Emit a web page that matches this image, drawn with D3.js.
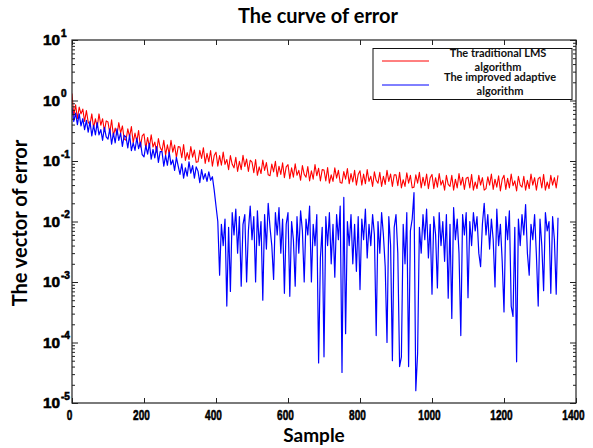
<!DOCTYPE html>
<meta charset="utf-8">
<title>The curve of error</title>
<style>
  body { margin: 0; background: #fff; }
  .frame { fill: none; stroke: #222; stroke-width: 1.2px; }
  .axis path { display: none; }
  .axis line { stroke: #222; stroke-width: 1px; }
  .tick-lbl { font-family: "Liberation Sans", Arial, sans-serif; font-weight: bold; font-size: 15px; fill: #000; stroke: #000; stroke-width: 0.6px; }
  .lbl { font-family: Lato, "Open Sans", sans-serif; font-weight: bold; font-size: 20px; fill: #000; }
  .leg { font-family: Lato, "Open Sans", sans-serif; font-weight: bold; font-size: 11px; fill: #111; }
  .err { fill: none; stroke-linejoin: round; }
</style>

<body>
  <script src="https://d3js.org/d3.v7.min.js"></script>
  <script>
    // one value every 5 samples, starting at sample 0
    var sampleStep = 5;

    // traditional LMS error (red)
    var lmsErr = [
      1.3, 0.55, 0.85, 0.5, 0.78, 0.6, 0.72, 0.45, 0.68, 0.44,
      0.4, 0.6, 0.35, 0.5, 0.36, 0.6, 0.39, 0.5, 0.31, 0.46,
      0.44, 0.29, 0.48, 0.26, 0.35, 0.27, 0.43, 0.29, 0.38, 0.23,
      0.22, 0.34, 0.25, 0.37, 0.2, 0.29, 0.21, 0.32, 0.17, 0.26,
      0.28, 0.16, 0.245, 0.17, 0.27, 0.17, 0.205, 0.14, 0.235, 0.167,
      0.146, 0.22, 0.125, 0.185, 0.13, 0.22, 0.14, 0.184, 0.114, 0.173,
      0.17, 0.113, 0.187, 0.102, 0.138, 0.106, 0.173, 0.116, 0.152, 0.095,
      0.097, 0.15, 0.11, 0.166, 0.091, 0.134, 0.097, 0.149, 0.082, 0.123,
      0.14, 0.082, 0.123, 0.085, 0.14, 0.088, 0.106, 0.072, 0.123, 0.088,
      0.077, 0.115, 0.067, 0.099, 0.072, 0.124, 0.081, 0.108, 0.067, 0.103,
      0.096, 0.064, 0.106, 0.058, 0.08, 0.062, 0.104, 0.07, 0.094, 0.059,
      0.057, 0.089, 0.066, 0.099, 0.055, 0.082, 0.06, 0.093, 0.053, 0.08,
      0.087, 0.051, 0.077, 0.054, 0.09, 0.058, 0.07, 0.048, 0.084, 0.06,
      0.054, 0.081, 0.047, 0.069, 0.05, 0.087, 0.057, 0.076, 0.047, 0.072,
      0.071, 0.047, 0.078, 0.043, 0.059, 0.046, 0.077, 0.052, 0.07, 0.044,
      0.043, 0.067, 0.05, 0.075, 0.042, 0.062, 0.045, 0.07, 0.04, 0.06,
      0.069, 0.04, 0.061, 0.042, 0.072, 0.046, 0.056, 0.038, 0.066, 0.048,
      0.043, 0.065, 0.038, 0.056, 0.041, 0.07, 0.046, 0.061, 0.038, 0.059,
      0.059, 0.039, 0.065, 0.036, 0.049, 0.038, 0.064, 0.043, 0.058, 0.036,
      0.037, 0.059, 0.043, 0.065, 0.036, 0.054, 0.039, 0.061, 0.035, 0.053,
      0.06, 0.035, 0.053, 0.037, 0.062, 0.04, 0.048, 0.033, 0.058, 0.041,
      0.038, 0.058, 0.033, 0.05, 0.036, 0.062, 0.04, 0.054, 0.034, 0.052,
      0.054, 0.036, 0.06, 0.033, 0.045, 0.035, 0.058, 0.04, 0.053, 0.033,
      0.035, 0.055, 0.04, 0.061, 0.034, 0.05, 0.037, 0.057, 0.032, 0.05,
      0.058, 0.034, 0.052, 0.036, 0.061, 0.039, 0.047, 0.032, 0.056, 0.04,
      0.037, 0.056, 0.033, 0.048, 0.035, 0.061, 0.04, 0.053, 0.033, 0.051,
      0.054, 0.036, 0.06, 0.033, 0.045, 0.035, 0.058, 0.04, 0.053, 0.036,
      0.058
    ];

    // improved adaptive algorithm error (blue)
    var adaptErr = [
      0.75, 0.45, 0.62, 0.4, 0.6, 0.38, 0.5, 0.33, 0.47, 0.3,
      0.45, 0.26, 0.39, 0.27, 0.43, 0.27, 0.33, 0.22, 0.36, 0.25,
      0.23, 0.34, 0.19, 0.29, 0.2, 0.34, 0.22, 0.29, 0.175, 0.265,
      0.25, 0.165, 0.27, 0.148, 0.2, 0.15, 0.24, 0.16, 0.205, 0.127,
      0.117, 0.18, 0.13, 0.195, 0.107, 0.156, 0.113, 0.173, 0.095, 0.143,
      0.143, 0.082, 0.124, 0.085, 0.14, 0.087, 0.104, 0.07, 0.115, 0.082,
      0.06, 0.09, 0.052, 0.077, 0.056, 0.097, 0.063, 0.084, 0.052, 0.08,
      0.068, 0.044, 0.072, 0.05, 0.062, 0.046, 0.066, 0.048, 0.055, 0.033,
      0.018, 0.01, 0.0013, 0.009, 0.004, 0.011, 0.0004, 0.008, 0.0007, 0.014,
      0.006, 0.016, 0.003, 0.012, 0.00085, 0.009, 0.013, 0.001, 0.007, 0.018,
      0.005, 0.012, 0.001, 0.015, 0.004, 0.01, 0.0005, 0.013, 0.0035, 0.02,
      0.008, 0.004, 0.0011, 0.014, 0.006, 0.017, 0.003, 0.011, 0.00065, 0.009,
      0.014, 0.00058, 0.01, 0.005, 0.00085, 0.012, 0.003, 0.015, 0.007, 0.001,
      0.011, 0.006, 0.018, 0.001, 0.009, 0.004, 0.013, 0.000046, 0.0025, 0.008,
      0.000058, 0.012, 0.004, 0.014, 0.002, 0.009, 0.0012, 0.013, 0.005, 0.018,
      0.000032, 0.025, 0.00014, 0.01, 0.004, 0.013, 0.002, 0.009, 0.0015, 0.012,
      0.00075, 0.011, 0.005, 0.016, 0.0025, 0.009, 0.004, 0.013, 0.006, 0.00013,
      0.01, 0.003, 0.014, 0.006, 0.0018, 0.0001, 0.012, 0.004, 0.00005, 0.008,
      0.013, 0.003, 0.00004, 0.000058, 0.009, 0.002, 0.014, 0.00004, 0.007, 0.011,
      0.03, 0.000016, 0.000066, 0.008, 0.003, 0.013, 0.005, 0.016, 0.0025, 0.009,
      0.00063, 0.012, 0.006, 0.0008, 0.014, 0.004, 0.01, 0.0022, 0.013, 0.00054,
      0.009, 0.00025, 0.017, 0.005, 0.011, 0.003, 0.00013, 0.013, 0.006, 0.014,
      0.00055, 0.01, 0.004, 0.014, 0.007, 0.012, 0.003, 0.0018, 0.009, 0.02,
      0.006, 0.013, 0.0035, 0.011, 0.005, 0.00083, 0.016, 0.004, 0.009, 0.0022,
      0.00032, 0.012, 0.005, 0.015, 0.0004, 0.00027, 0.008, 0.000048, 0.011, 0.004,
      0.013, 0.006, 0.019, 0.003, 0.0013, 0.009, 0.005, 0.013, 0.0028, 0.0004,
      0.011, 0.004, 0.00072, 0.014, 0.007, 0.01, 0.00065, 0.012, 0.005, 0.00063,
      0.0115
    ];

    var xTicks = [0, 200, 400, 600, 800, 1000, 1200, 1400];
    var yExps = [-5, -4, -3, -2, -1, 0, 1];
    var legendLabels = [
      ["The traditional LMS", "algorithm"],
      ["The improved adaptive", "algorithm"]
    ];
    var seriesColors = ["#ff0000", "#0000ff"];

    var width = 593,
      height = 448;
    var mLeft = 72, mRight = 576, mTop = 40, mBottom = 403;

    var svg = d3.select("body").append("svg")
      .attr("width", width)
      .attr("height", height);

    var x = d3.scaleLinear().domain([0, 1400]).range([mLeft, mRight]);
    var y = d3.scaleLog().domain([1e-5, 10]).range([mBottom, mTop]);

    // minor log ticks 2..9 in every decade
    var minor = [];
    yExps.slice(0, -1).forEach(function(e) {
      for (var k = 2; k < 10; k++) minor.push(k * Math.pow(10, e));
    });
    var major = yExps.map(function(e) { return Math.pow(10, e); });

    svg.append("defs").append("clipPath").attr("id", "clip")
      .append("rect")
      .attr("x", mLeft).attr("y", mTop)
      .attr("width", mRight - mLeft).attr("height", mBottom - mTop);

    // lines
    var line = d3.line()
      .x(function(d, i) { return x(i * sampleStep); })
      .y(function(d) { return y(d); });

    var plot = svg.append("g").attr("clip-path", "url(#clip)");
    plot.append("path").datum(lmsErr)
      .attr("class", "err").attr("stroke", seriesColors[0]).attr("stroke-width", 1.1).attr("d", line);
    plot.append("path").datum(adaptErr)
      .attr("class", "err").attr("stroke", seriesColors[1]).attr("stroke-width", 1.2).attr("d", line);

    // axes: ticks point inward on all four sides
    var xAx = svg.append("g").attr("class", "axis")
      .attr("transform", "translate(0," + mBottom + ")")
      .call(d3.axisBottom(x).tickValues(xTicks).tickSize(-5).tickPadding(6).tickFormat(d3.format("d")));
    xAx.selectAll(".tick text")
      .attr("class", "tick-lbl")
      .attr("x", -3)
      .attr("textLength", function(d) { return String(d).length * 5.6; })
      .attr("lengthAdjust", "spacingAndGlyphs");

    svg.append("g").attr("class", "axis")
      .attr("transform", "translate(0," + mTop + ")")
      .call(d3.axisTop(x).tickValues(xTicks).tickSize(-5).tickFormat(""));

    var yLeft = svg.append("g").attr("class", "axis")
      .attr("transform", "translate(" + mLeft + ",0)")
      .call(d3.axisLeft(y).tickValues(major).tickSize(-6).tickFormat(""));
    svg.append("g").attr("class", "axis")
      .attr("transform", "translate(" + mLeft + ",0)")
      .call(d3.axisLeft(y).tickValues(minor).tickSize(-3).tickFormat(""));

    svg.append("g").attr("class", "axis")
      .attr("transform", "translate(" + mRight + ",0)")
      .call(d3.axisRight(y).tickValues(major).tickSize(-6).tickFormat(""));
    svg.append("g").attr("class", "axis")
      .attr("transform", "translate(" + mRight + ",0)")
      .call(d3.axisRight(y).tickValues(minor).tickSize(-3).tickFormat(""));

    // 10^n labels
    yLeft.selectAll(".tick").each(function(d, i) {
      var g = d3.select(this);
      g.select("text").remove();
      g.append("text").attr("class", "tick-lbl")
        .attr("text-anchor", "start")
        .attr("x", -29).attr("dy", "0.3em")
        .attr("textLength", 17).attr("lengthAdjust", "spacingAndGlyphs")
        .text("10");
      g.append("text").attr("class", "tick-lbl")
        .attr("text-anchor", "start")
        .attr("x", -11).attr("y", -4).style("font-size", "10px")
        .text(yExps[i]);
    });

    svg.append("rect").attr("class", "frame")
      .attr("x", mLeft).attr("y", mTop)
      .attr("width", mRight - mLeft).attr("height", mBottom - mTop);

    // titles
    svg.append("text").attr("class", "lbl")
      .attr("x", 318).attr("y", 23).attr("text-anchor", "middle")
      .text("The curve of error");
    svg.append("text").attr("class", "lbl")
      .attr("x", 314).attr("y", 442).attr("text-anchor", "middle")
      .style("font-size", "19px")
      .text("Sample");
    svg.append("text").attr("class", "lbl")
      .attr("transform", "translate(27,223) rotate(-90)")
      .attr("text-anchor", "middle")
      .text("The vector of error");

    // legend
    var leg = svg.append("g");
    leg.append("rect")
      .attr("x", 373).attr("y", 48.5).attr("width", 199).attr("height", 51)
      .attr("fill", "#fff").attr("stroke", "#111").attr("stroke-width", 1);
    legendLabels.forEach(function(lbl, i) {
      var ly = 61 + i * 24;
      leg.append("line")
        .attr("x1", 382).attr("x2", 429).attr("y1", ly).attr("y2", ly)
        .attr("stroke", seriesColors[i]).attr("stroke-width", 1);
      leg.append("text").attr("class", "leg")
        .attr("x", 498 + i * 2).attr("y", ly - 4).attr("text-anchor", "middle")
        .text(lbl[0]);
      leg.append("text").attr("class", "leg")
        .attr("x", 498 + i * 2).attr("y", ly + 10).attr("text-anchor", "middle")
        .text(lbl[1]);
    });
  </script>
</body>
